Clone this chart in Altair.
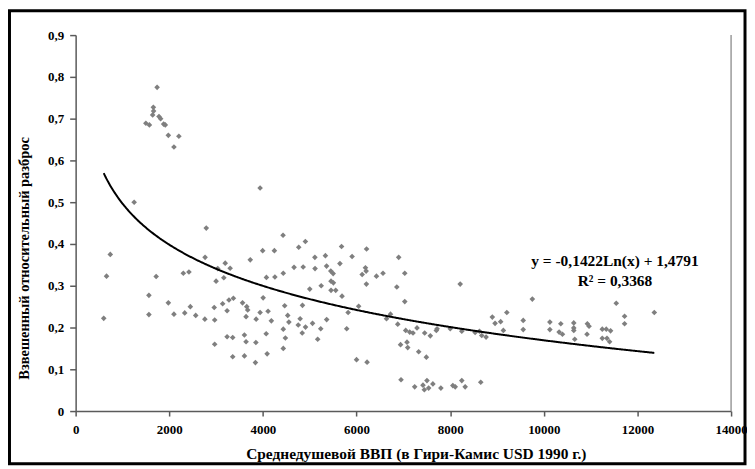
import altair as alt
import pandas as pd

# ---- data ----
GDP = [1740, 1660, 1665, 1645, 1780, 1815, 1500, 1575, 1880, 1915, 1980, 2205, 2100, 3940, 1250, 2790,
       740, 660, 600, 1720, 1565, 1565, 1980, 2100, 2330, 2300, 2420, 2450, 2565, 2765, 2760, 2960, 2970,
       2970, 3000, 3035, 3140, 3165, 3195, 3235, 3300, 3275, 3370, 3235, 3355, 3355, 3565, 3605, 3640,
       3605, 3655, 3675, 3640, 3730, 3855, 3850, 3840, 3940, 3995, 4005, 4075, 4070, 4090, 4110, 4180,
       4245, 4256, 4430, 4435, 4465, 4435, 4480, 4435, 4530, 4555, 4665, 4765, 4795, 4755, 4845, 4860,
       4840, 4907, 4910, 5000, 5060, 5110, 5114, 5170, 5235, 5245, 5335, 5360, 5362, 5450, 5500, 5455,
       5505, 5455, 5555, 5645, 5680, 5690, 5790, 5820, 5905, 6000, 6045, 6120, 6190, 6205, 6210, 6214,
       6225, 6425, 6565, 6640, 6725, 6860, 6900, 6880, 6940, 6950, 7030, 7030, 7050, 7078, 7093, 7135,
       7206, 7291, 7455, 7576, 7704, 7720, 8001, 8214, 8248, 7327, 7491, 7242, 7419, 7504, 7540, 7448,
       7631, 7801, 8057, 8108, 8248, 8320, 8653, 8533, 8625, 8674, 8767, 8900, 8959, 9078, 9136, 9210,
       9560, 9560, 9755, 10129, 10129, 10363, 10398, 10327, 10640, 10640, 10640, 10661, 10930, 10966,
       10923, 11249, 11334, 11426, 11249, 11349, 11405, 11547, 11725, 11725, 12360]
SPREAD = [0.775, 0.727, 0.718, 0.709, 0.705, 0.700, 0.689, 0.685, 0.687, 0.685, 0.660, 0.658, 0.632, 0.534, 0.500, 0.438,
          0.375, 0.323, 0.222, 0.322, 0.277, 0.231, 0.259, 0.232, 0.235, 0.330, 0.333, 0.250, 0.229, 0.368, 0.220, 0.248, 0.218,
          0.160, 0.311, 0.341, 0.257, 0.319, 0.354, 0.240, 0.342, 0.266, 0.270, 0.178, 0.176, 0.130, 0.259, 0.182, 0.166,
          0.132, 0.250, 0.242, 0.226, 0.362, 0.220, 0.164, 0.116, 0.236, 0.384, 0.271, 0.320, 0.185, 0.137, 0.239, 0.216,
          0.384, 0.321, 0.421, 0.330, 0.252, 0.196, 0.175, 0.150, 0.229, 0.213, 0.344, 0.392, 0.221, 0.206, 0.253, 0.345,
          0.187, 0.406, 0.201, 0.292, 0.210, 0.368, 0.341, 0.172, 0.197, 0.300, 0.372, 0.347, 0.219, 0.335, 0.329, 0.311,
          0.307, 0.289, 0.289, 0.353, 0.394, 0.275, 0.197, 0.236, 0.370, 0.123, 0.251, 0.327, 0.343, 0.335, 0.304, 0.388,
          0.117, 0.323, 0.330, 0.221, 0.232, 0.297, 0.368, 0.208, 0.159, 0.075, 0.330, 0.262, 0.193, 0.165, 0.152, 0.189,
          0.187, 0.199, 0.187, 0.180, 0.193, 0.197, 0.197, 0.304, 0.191, 0.142, 0.129, 0.058, 0.062, 0.073, 0.055, 0.051,
          0.065, 0.055, 0.061, 0.058, 0.073, 0.058, 0.069, 0.188, 0.191, 0.181, 0.177, 0.225, 0.210, 0.214, 0.193, 0.236,
          0.217, 0.195, 0.268, 0.213, 0.195, 0.209, 0.184, 0.189, 0.211, 0.199, 0.193, 0.172, 0.209, 0.203,
          0.184, 0.196, 0.196, 0.192, 0.174, 0.174, 0.166, 0.258, 0.227, 0.209, 0.236]

X_TICKS = [0, 2000, 4000, 6000, 8000, 10000, 12000, 14000]
Y_TICKS = [0, 0.1, 0.2, 0.3, 0.4, 0.5, 0.6, 0.7, 0.8, 0.9]
TREND_COEF = [-0.1422, 1.4791]
TREND_X = [600, 12360]
EQ_TEXT = ["y = -0,1422Ln(x) + 1,4791", "R² = 0,3368"]
EQ_X = [11520, 11520]
EQ_Y = [0.347, 0.2995]
X_TITLE = "Среднедушевой ВВП (в Гири-Камис USD 1990 г.)"
Y_TITLE = "Взвешенный относительный разброс"

W, H = 659, 378
FONT = "Liberation Serif"

pts = pd.DataFrame({"gdp": GDP, "spread": SPREAD})
eq = pd.DataFrame({"gdp": EQ_X, "spread": EQ_Y, "txt": EQ_TEXT})
one = pd.DataFrame({"k": [0]})

x_scale = alt.Scale(domain=[X_TICKS[0], X_TICKS[-1]], nice=False, zero=False)
y_scale = alt.Scale(domain=[Y_TICKS[0], Y_TICKS[-1]], nice=False)

x_axis = alt.Axis(values=X_TICKS, format="d", title=X_TITLE, labelFlush=False,
                  titleX=342, titleY=48, titleAlign="center", titleBaseline="alphabetic",
                  titleFontSize=15.5, tickSize=5, labelPadding=8)
y_axis = alt.Axis(values=Y_TICKS, title=Y_TITLE, labelFlush=False,
                  labelExpr="datum.value == 0 ? '0' : replace(format(datum.value, '.1f'), '.', ',')",
                  titleX=-51, titleY=224, titleAngle=270, titleAlign="center", titleBaseline="middle",
                  titleFontSize=14.5, tickSize=6, labelPadding=6)

points = alt.Chart(pts).mark_point(shape="diamond", filled=True, size=32, color="#7f7f7f", opacity=1).encode(
    x=alt.X("gdp:Q", scale=x_scale, axis=x_axis),
    y=alt.Y("spread:Q", scale=y_scale, axis=y_axis),
)

trend = alt.Chart(alt.sequence(TREND_X[0], TREND_X[1] + 1, 20, as_="gdp")).transform_calculate(
    spread=f"{TREND_COEF[0]} * log(datum.gdp) + {TREND_COEF[1]}"
).mark_line(color="black", strokeWidth=2).encode(
    x=alt.X("gdp:Q", scale=x_scale), y=alt.Y("spread:Q", scale=y_scale)
)

eq_text = alt.Chart(eq).mark_text(font=FONT, fontWeight="bold", fontSize=15.5, align="center",
                                  baseline="alphabetic", color="black").encode(
    x=alt.X("gdp:Q", scale=x_scale), y=alt.Y("spread:Q", scale=y_scale), text="txt:N"
)

frame = alt.Chart(one).mark_rect(fillOpacity=0, stroke="black", strokeWidth=3).encode(
    x=alt.value(-66.5), x2=alt.value(673), y=alt.value(-24.5), y2=alt.value(431)
)

right_border = alt.Chart(one).mark_rule(color="#9a9a9a", strokeWidth=1.5).encode(
    x=alt.value(W), y=alt.value(0), y2=alt.value(H)
)

chart = alt.layer(frame, right_border, points, trend, eq_text).properties(
    width=W, height=H, autosize="none",
    padding={"left": 68, "top": 26, "right": 16, "bottom": 55},
).configure_view(stroke=None).configure_axis(
    grid=False, domainColor="#5a5a5a", domainWidth=1.5, tickColor="#5a5a5a", tickWidth=1.5,
    labelFont=FONT, labelFontWeight="bold", labelFontSize=13, labelColor="black",
    titleFont=FONT, titleFontWeight="bold", titleColor="black",
)

chart.save("out.html", embed_options={"renderer": "svg", "actions": False})
